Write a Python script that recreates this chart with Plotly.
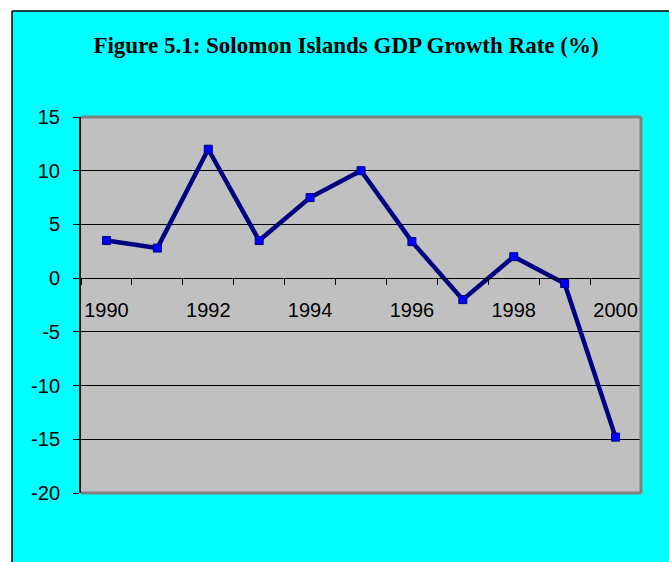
import plotly.graph_objects as go

years = [1990, 1991, 1992, 1993, 1994, 1995, 1996, 1997, 1998, 1999, 2000]
growth = [3.5, 2.8, 12.0, 3.5, 7.5, 10.0, 3.4, -2.0, 2.0, -0.5, -14.8]
label_years = [1990, 1992, 1994, 1996, 1998, 2000]
y_ticks = [15, 10, 5, 0, -5, -10, -15, -20]
title_text = "Figure 5.1: Solomon Islands GDP Growth Rate (%)"

W, H = 669, 562
L, R, T, B = 81, 28, 117, 69

fig = go.Figure()
fig.add_trace(go.Scatter(
    x=years, y=growth, mode="lines+markers",
    line=dict(color="#000080", width=4.5),
    marker=dict(symbol="square", size=8, color="#0000FF",
                line=dict(color="#000080", width=1)),
    showlegend=False, cliponaxis=False,
))

ymin, ymax = -20, 15
xpos = (0 - ymin) / (ymax - ymin)

fig.update_layout(
    width=W, height=H,
    margin=dict(l=L, r=R, t=T, b=B, pad=0),
    paper_bgcolor="#00FFFF",
    plot_bgcolor="#C0C0C0",
    title=dict(text="<b>" + title_text + "</b>", x=(346) / W, xanchor="center",
               y=1 - 45 / H, yanchor="middle",
               font=dict(family="Liberation Serif", size=23, color="black")),
    xaxis=dict(
        range=[1989.5, 2000.5], anchor="free", position=xpos,
        tickmode="array", tickvals=label_years, ticktext=[str(v) for v in label_years],
        ticks="", showgrid=False, zeroline=False,
        showline=True, linecolor="black", linewidth=1,
        ticklabelstandoff=14,
        tickfont=dict(family="Liberation Sans", size=20, color="black"),
        minor=dict(tickmode="linear", tick0=1989.5, dtick=1, ticks="outside",
                   ticklen=6, tickcolor="black", tickwidth=1, showgrid=False),
    ),
    yaxis=dict(
        range=[ymin, ymax], tickmode="array", tickvals=y_ticks,
        ticktext=[str(v) for v in y_ticks],
        ticks="outside", ticklen=6, tickcolor="black", tickwidth=1,
        showgrid=True, gridcolor="black", gridwidth=1,
        zeroline=False, showline=True, linecolor="black", linewidth=2,
        ticklabelstandoff=9,
        tickfont=dict(family="Liberation Sans", size=20, color="black"),
    ),
    shapes=[
        dict(type="rect", xref="paper", yref="paper",
             x0=-L / (W - L - R), x1=(W - L) / (W - L - R) + 0.01,
             y0=(H - B - 11) / (H - T - B), y1=(H - B) / (H - T - B) + 0.05,
             fillcolor="white", line=dict(width=0), layer="above"),
        dict(type="rect", xref="paper", yref="paper",
             x0=-L / (W - L - R) - 0.01, x1=(12 - L) / (W - L - R),
             y0=-B / (H - T - B) - 0.05, y1=(H - B) / (H - T - B) + 0.05,
             fillcolor="white", line=dict(width=0), layer="above"),
        dict(type="line", xref="paper", yref="paper",
             x0=(12 - L) / (W - L - R), x1=(W - L) / (W - L - R) + 0.01,
             y0=(H - B - 11) / (H - T - B), y1=(H - B - 11) / (H - T - B),
             line=dict(color="black", width=1.5), layer="above"),
        dict(type="line", xref="paper", yref="paper",
             x0=(12 - L) / (W - L - R), x1=(12 - L) / (W - L - R),
             y0=(H - B - 11) / (H - T - B), y1=-B / (H - T - B) - 0.05,
             line=dict(color="black", width=1.5), layer="above"),
        dict(type="line", xref="x domain", yref="y domain",
             x0=0, x1=1, y0=1, y1=1, line=dict(color="#808080", width=3), layer="above"),
        dict(type="line", xref="x domain", yref="y domain",
             x0=1, x1=1, y0=0, y1=1, line=dict(color="#808080", width=3), layer="above"),
        dict(type="line", xref="x domain", yref="y domain",
             x0=0, x1=1, y0=0, y1=0, line=dict(color="#808080", width=3), layer="above"),
    ],
)

fig.write_html("out.html")
